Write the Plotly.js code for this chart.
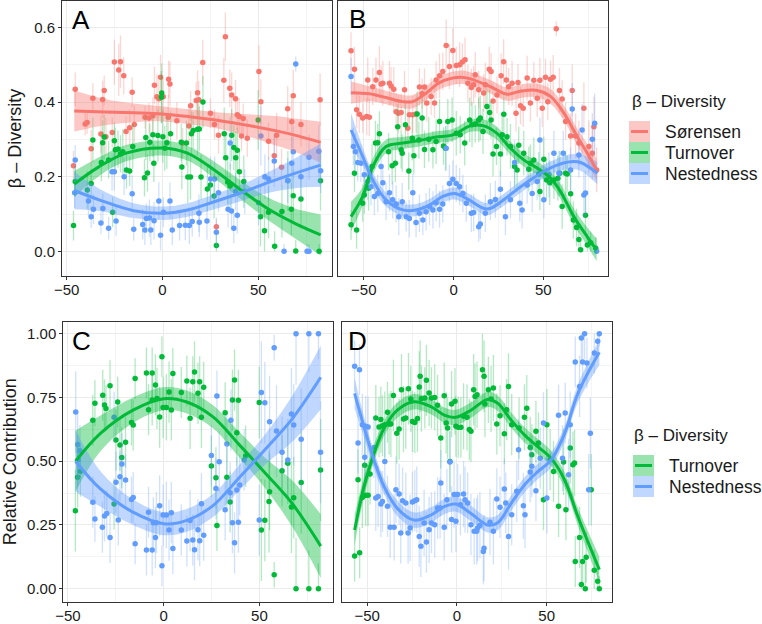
<!DOCTYPE html>
<html><head><meta charset="utf-8">
<script src="https://cdn.plot.ly/plotly-3.0.1.min.js"></script>
<style>html,body{margin:0;padding:0;background:#fff}#chart{width:762px;height:624px}</style>
</head><body><div id="chart"></div>
<script>
// ---------------- DATA ([x, value, error half-length]) ----------------
const A_SOR = [[-46.4,0.229,0.04],[-45.5,0.434,0.045],[-40.3,0.341,0.03],[-39.3,0.345,0.03],[-37.2,0.275,0.05],[-36.3,0.41,0.04],[-32.1,0.314,0.05],[-31.2,0.407,0.05],[-30.4,0.431,0.04],[-29.5,0.307,0.05],[-26.2,0.318,0.04],[-25.1,0.507,0.06],[-22.8,0.486,0.07],[-21.9,0.508,0.07],[-20.2,0.47,0.05],[-19,0.321,0.04],[-17.1,0.331,0.05],[-15.8,0.426,0.04],[-14.7,0.34,0.05],[-9.1,0.359,0.03],[-7,0.357,0.04],[-5,0.363,0.05],[-4.2,0.445,0.05],[-2.9,0.414,0.06],[-1.9,0.409,0.05],[-1,0.466,0.06],[0.4,0.414,0.05],[3,0.359,0.06],[3.2,0.461,0.05],[3.9,0.448,0.06],[7.5,0.35,0.05],[10.5,0.29,0.04],[13.8,0.336,0.05],[14.7,0.39,0.04],[17.6,0.404,0.05],[18.3,0.425,0.06],[18.9,0.406,0.05],[21,0.506,0.06],[25,0.37,0.04],[27.1,0.34,0.04],[28.1,0.066,0.02],[29.2,0.311,0.05],[32,0.458,0.06],[32.8,0.575,0.065],[35.1,0.437,0.05],[36.1,0.419,0.06],[38.1,0.409,0.05],[39,0.366,0.04],[40,0.361,0.05],[41.2,0.309,0.04],[42.1,0.356,0.04],[44.2,0.303,0.05],[50.3,0.482,0.07],[51.3,0.401,0.06],[55.3,0.295,0.05],[58.3,0.256,0.05],[59.5,0.311,0.06],[62.1,0.225,0.05],[65.3,0.382,0.06],[67.4,0.347,0.07],[68.2,0.417,0.07],[72.2,0.34,0.06],[82.2,0.406,0.07]];
const A_TUR = [[-46.4,0.069,0.04],[-45.5,0.187,0.04],[-39.2,0.164,0.05],[-37.2,0.182,0.04],[-36.3,0.298,0.06],[-31.9,0.238,0.05],[-31.2,0.291,0.06],[-30.4,0.306,0.06],[-28.1,0.245,0.05],[-26,0.105,0.04],[-25.1,0.296,0.05],[-24.6,0.272,0.06],[-23.2,0.274,0.05],[-21.9,0.261,0.05],[-20.7,0.267,0.06],[-18.8,0.218,0.05],[-17.1,0.215,0.04],[-15.5,0.281,0.06],[-9.4,0.197,0.05],[-7.8,0.21,0.05],[-8.7,0.305,0.06],[-6.6,0.292,0.05],[-5,0.312,0.06],[-4.5,0.236,0.05],[-2.4,0.31,0.07],[-0.4,0.424,0.08],[-0.6,0.413,0.07],[0.2,0.307,0.07],[1.2,0.276,0.06],[2.3,0.291,0.07],[4.2,0.315,0.06],[9.8,0.292,0.05],[10.1,0.226,0.06],[12.5,0.29,0.06],[13.2,0.199,0.07],[14.6,0.199,0.06],[15.1,0.315,0.06],[16,0.324,0.05],[18.3,0.327,0.07],[19.2,0.328,0.06],[21.1,0.4,0.07],[20.1,0.199,0.06],[23.4,0.167,0.06],[25,0.178,0.05],[26.9,0.148,0.06],[28.1,0.016,0.03],[32.2,0.315,0.07],[33,0.251,0.07],[34,0.186,0.06],[35.3,0.175,0.06],[36.1,0.311,0.07],[37.2,0.278,0.06],[38.2,0.251,0.07],[39,0.271,0.06],[40.1,0.213,0.06],[42.4,0.187,0.07],[49.9,0.352,0.08],[51.1,0.093,0.08],[53.2,0.055,0.06],[55.3,0.105,0.07],[58.5,0.014,0.04],[62.3,0.107,0.07],[65.4,0.189,0.08],[67.2,0.113,0.07],[68.2,0.149,0.07],[69.5,0.001,0.03],[72.2,0.14,0.08],[81.7,0,0.02],[82.4,0.189,0.08]];
const A_NES = [[-45.5,0.245,0.04],[-45.8,0.157,0.04],[-38.6,0.135,0.04],[-37.2,0.093,0.03],[-36,0.113,0.04],[-32.1,0.076,0.03],[-31.1,0.115,0.04],[-28.1,0.062,0.03],[-24.2,0.081,0.04],[-26.3,0.213,0.05],[-25.1,0.213,0.05],[-20,0.2,0.05],[-15.8,0.154,0.05],[-15,0.059,0.03],[-10.3,0.072,0.04],[-9.2,0.057,0.04],[-8.4,0.088,0.04],[-6.8,0.089,0.05],[-6.1,0.057,0.04],[-4.4,0.082,0.05],[-1.9,0.135,0.05],[-1,0.043,0.04],[0.5,0.105,0.04],[3.9,0.135,0.05],[5.1,0.057,0.04],[8.9,0.069,0.04],[11.9,0.07,0.04],[14,0.069,0.05],[15.5,0.08,0.04],[19,0.102,0.05],[19.2,0.078,0.04],[23.2,0.081,0.05],[25.1,0.194,0.06],[27.2,0.194,0.06],[28.1,0.051,0.04],[29.2,0.157,0.05],[34.2,0.113,0.05],[35.3,0.29,0.07],[36,0.108,0.05],[37.2,0.062,0.04],[39,0.097,0.05],[38.1,0.16,0.05],[42.9,0.16,0.06],[50.1,0.13,0.06],[51.3,0.309,0.08],[53.4,0.2,0.06],[55.3,0.194,0.06],[58.3,0.242,0.07],[63.4,0,0.02],[65.3,0.19,0.06],[67.4,0.236,0.07],[68.2,0.267,0.07],[69.5,0.502,0.02],[72.2,0.2,0.06],[75.4,0,0.02],[76.4,0,0.02],[76.4,0.252,0.06],[81.5,0.268,0.07],[82.5,0.216,0.06]];

const B_SOR = [[-57.1,0.537,0.05],[-55.2,0.488,0.06],[-54,0.379,0.05],[-52.5,0.367,0.05],[-50.6,0.357,0.04],[-48.4,0.361,0.05],[-46.9,0.359,0.05],[-47.8,0.459,0.06],[-45,0.441,0.05],[-43.2,0.459,0.06],[-41.3,0.479,0.07],[-40.4,0.448,0.05],[-39.4,0.45,0.06],[-35.7,0.45,0.06],[-34.8,0.443,0.05],[-33.3,0.434,0.06],[-32,0.374,0.05],[-30.7,0.37,0.05],[-29.2,0.372,0.05],[-27.3,0.433,0.05],[-25.5,0.33,0.05],[-24.6,0.366,0.04],[-22.7,0.366,0.05],[-20.9,0.368,0.05],[-19,0.44,0.05],[-17.5,0.422,0.04],[-16.2,0.44,0.05],[-14.9,0.397,0.05],[-12.5,0.415,0.05],[-10.6,0.397,0.04],[-9.7,0.459,0.05],[-7.8,0.47,0.06],[-6,0.482,0.05],[-4.1,0.551,0.07],[-2.3,0.495,0.06],[-0.4,0.538,0.06],[1.5,0.498,0.05],[3.4,0.5,0.06],[4.9,0.507,0.05],[6.4,0.513,0.06],[8,0.45,0.05],[9.9,0.439,0.05],[11.2,0.446,0.05],[12.1,0.473,0.06],[14,0.433,0.05],[16.8,0.424,0.05],[17.7,0.446,0.06],[19.9,0.488,0.06],[20.9,0.482,0.05],[22,0.403,0.05],[24.2,0.419,0.05],[26.5,0.47,0.06],[27.9,0.508,0.06],[29.4,0.459,0.05],[30.7,0.441,0.05],[32.6,0.45,0.06],[34.8,0.37,0.05],[35.9,0.452,0.05],[37.3,0.39,0.05],[38.8,0.383,0.05],[41,0.464,0.06],[42.8,0.397,0.05],[44.7,0.458,0.05],[46.6,0.41,0.05],[48.1,0.458,0.06],[49.4,0.383,0.05],[51.2,0.466,0.05],[52.5,0.401,0.05],[54,0.461,0.05],[55.5,0.466,0.06],[57.2,0.596,0.02],[59,0.431,0.06],[60.5,0.408,0.05],[62.4,0.348,0.05],[65.2,0.309,0.06],[66.1,0.431,0.07],[68,0.309,0.06],[69.8,0.29,0.06],[72.6,0.383,0.07],[75.4,0.281,0.07],[77.3,0.263,0.07],[78.2,0.334,0.08],[79.7,0.218,0.06]];
const B_TUR = [[-57.1,0.071,0.04],[-55.2,0.209,0.05],[-54,0.057,0.05],[-50.6,0.129,0.05],[-49.7,0.151,0.05],[-47.3,0.169,0.06],[-45.4,0.227,0.06],[-43.5,0.29,0.06],[-42.2,0.291,0.05],[-41.3,0.315,0.06],[-36.2,0.267,0.05],[-34.2,0.229,0.05],[-32.4,0.236,0.05],[-31.1,0.334,0.06],[-29.2,0.272,0.05],[-28.6,0.263,0.05],[-26.8,0.339,0.06],[-24.9,0.215,0.05],[-23,0.303,0.06],[-22.1,0.256,0.05],[-20.3,0.368,0.06],[-19.3,0.298,0.05],[-17.5,0.357,0.06],[-16.2,0.273,0.05],[-13.8,0.3,0.06],[-11.5,0.272,0.05],[-9.7,0.294,0.06],[-7.8,0.348,0.06],[-5.6,0.282,0.05],[-4.5,0.276,0.06],[-3.2,0.348,0.06],[-0.8,0.352,0.06],[1.5,0.316,0.06],[3.7,0.312,0.05],[6.2,0.29,0.06],[9,0.352,0.06],[10.3,0.339,0.06],[12.1,0.341,0.05],[14,0.352,0.06],[14.9,0.357,0.06],[16.4,0.321,0.06],[18.6,0.388,0.06],[20.1,0.372,0.06],[20.9,0.352,0.05],[22,0.261,0.06],[23.9,0.281,0.05],[26.1,0.261,0.06],[27.1,0.312,0.06],[28,0.367,0.06],[29.8,0.307,0.05],[31.7,0.281,0.06],[34,0.227,0.06],[35.4,0.218,0.06],[36.3,0.284,0.05],[39.1,0.263,0.06],[41.9,0.22,0.06],[42.8,0.236,0.05],[44.7,0.245,0.06],[47.5,0.207,0.06],[48.1,0.16,0.05],[50.3,0.247,0.06],[51.8,0.191,0.05],[53.6,0.184,0.06],[55.9,0.191,0.05],[58.1,0.196,0.06],[59.2,0.209,0.06],[60.5,0.12,0.06],[62.4,0.209,0.06],[63.3,0.207,0.05],[65.2,0.154,0.06],[66.7,0.084,0.05],[68.5,0.064,0.05],[69.8,0.032,0.04],[70.8,0.004,0.03],[73.5,0.097,0.05],[74.5,0.017,0.03],[76.4,0.023,0.03],[79.2,0.008,0.03]];
const B_NES = [[-57.1,0.468,0.05],[-55.8,0.281,0.05],[-54.7,0.267,0.05],[-53.4,0.238,0.05],[-51.6,0.236,0.05],[-49.7,0.205,0.05],[-47.8,0.187,0.05],[-46,0.173,0.05],[-44.1,0.147,0.05],[-42.2,0.155,0.05],[-40.4,0.227,0.06],[-39.4,0.184,0.05],[-37.6,0.133,0.05],[-35.7,0.157,0.05],[-33.9,0.138,0.05],[-32,0.127,0.05],[-30.5,0.093,0.05],[-28.6,0.133,0.05],[-26.4,0.093,0.04],[-24.6,0.088,0.05],[-22.7,0.157,0.05],[-20.9,0.077,0.04],[-19,0.102,0.05],[-17.1,0.084,0.04],[-15.3,0.106,0.05],[-13.4,0.12,0.05],[-11.5,0.111,0.05],[-9.7,0.13,0.05],[-7.8,0.113,0.05],[-6,0.127,0.05],[-4.1,0.276,0.06],[-2.3,0.182,0.05],[-0.4,0.193,0.05],[1.5,0.182,0.05],[3.4,0.173,0.05],[5.2,0.155,0.05],[7.1,0.129,0.05],[9.9,0.102,0.05],[11.2,0.104,0.05],[14,0.066,0.04],[14.9,0.073,0.04],[17.7,0.102,0.05],[20.5,0.133,0.05],[23.3,0.139,0.05],[26.1,0.166,0.05],[28.9,0.093,0.05],[31.7,0.138,0.05],[34,0.238,0.06],[36.9,0.129,0.05],[38.2,0.111,0.05],[41,0.178,0.05],[43.8,0.155,0.05],[46.6,0.187,0.05],[48.1,0.298,0.06],[50.3,0.138,0.05],[53.1,0.205,0.06],[55.9,0.263,0.06],[58.7,0.209,0.06],[61.1,0.263,0.06],[65.2,0.218,0.06],[66.1,0.381,0.07],[69.8,0.258,0.06],[71.6,0.325,0.07],[72.6,0.151,0.06],[73.5,0.156,0.06],[77.3,0.3,0.07],[78.6,0.343,0.08],[79.7,0,0.02]];

const C_TUR = [[-46.1,0.306,0.16],[-44.9,0.437,0.12],[-43.5,0.461,0.1],[-37,0.661,0.1],[-35.9,0.727,0.09],[-31.8,0.759,0.1],[-30.9,0.72,0.1],[-30.1,0.707,0.09],[-28,0.796,0.1],[-25.9,0.332,0.1],[-24.9,0.583,0.12],[-24,0.732,0.1],[-22.8,0.563,0.1],[-21.9,0.514,0.12],[-19.9,0.574,0.1],[-16.8,0.652,0.09],[-15.9,0.642,0.1],[-14.9,0.824,0.08],[-9,0.846,0.1],[-7.9,0.702,0.1],[-6,0.846,0.1],[-6,0.74,0.1],[-4.3,0.799,0.12],[-3.5,0.746,0.12],[-2.1,0.673,0.12],[-0.9,0.91,0.08],[-0.3,0.711,0.12],[1.4,0.711,0.13],[2.8,0.771,0.12],[4,0.701,0.12],[4.8,0.844,0.1],[9.2,0.769,0.1],[12.1,0.814,0.1],[13.8,0.668,0.12],[15.2,0.812,0.1],[16.1,0.85,0.12],[17.9,0.766,0.12],[18.8,0.812,0.1],[19.7,0.672,0.12],[20.9,0.79,0.1],[24.9,0.481,0.12],[27.3,0.435,0.12],[27.8,0.248,0.1],[32.1,0.69,0.12],[33,0.437,0.12],[34.7,0.34,0.12],[35.9,0.74,0.12],[37,0.818,0.12],[38.2,0.612,0.13],[39,0.739,0.12],[42.8,0.52,0.12],[49.9,0.73,0.14],[51,0.23,0.2],[52.8,0.268,0.16],[55,0.342,0.2],[55.3,0.38,0.15],[57.7,0.055,0.05],[61.8,0.463,0.14],[64.8,0.492,0.16],[66.7,0.32,0.18],[67.9,0.357,0.16],[69.1,0,0.2],[71.8,0.416,0.2],[75.8,0,0.15],[80.8,0,0.1],[81.9,0.465,0.2]];
const C_NES = [[-45.9,0.693,0.16],[-44.9,0.565,0.12],[-44.7,0.505,0.1],[-43.7,0.541,0.1],[-37,0.339,0.1],[-35.9,0.273,0.09],[-32,0.241,0.1],[-30.9,0.285,0.1],[-29.7,0.295,0.09],[-28,0.201,0.1],[-25.9,0.672,0.1],[-24.9,0.417,0.12],[-23.7,0.269,0.1],[-22.8,0.439,0.1],[-21.8,0.489,0.12],[-19.9,0.426,0.1],[-16.8,0.35,0.09],[-15.9,0.358,0.1],[-14.9,0.176,0.08],[-9,0.152,0.1],[-7.9,0.3,0.1],[-6,0.152,0.1],[-5.4,0.259,0.1],[-4.3,0.201,0.12],[-3.8,0.259,0.12],[-2.1,0.325,0.12],[-0.9,0.09,0.08],[-0.3,0.289,0.12],[1.4,0.289,0.13],[2.8,0.23,0.12],[4,0.298,0.12],[4.8,0.158,0.1],[9.2,0.23,0.1],[12.1,0.187,0.1],[13.8,0.267,0.12],[15.2,0.191,0.1],[16.1,0.153,0.12],[17.9,0.231,0.12],[18.8,0.188,0.1],[19.7,0.333,0.12],[20.9,0.21,0.1],[24.9,0.522,0.12],[27.3,0.393,0.12],[27.8,0.756,0.1],[29,0.498,0.12],[32.1,0.31,0.12],[33,0.567,0.12],[34.7,0.376,0.12],[35.1,0.661,0.12],[35.9,0.259,0.12],[37,0.18,0.12],[38.2,0.387,0.13],[39,0.261,0.12],[39.7,0.407,0.12],[42,0.505,0.12],[49.9,0.269,0.14],[51,0.769,0.2],[52.8,0.729,0.16],[55.3,0.655,0.18],[57.7,0.945,0.05],[58.9,0.618,0.18],[61.8,0.535,0.14],[64.8,0.505,0.16],[66.7,0.685,0.18],[67.9,0.642,0.16],[69.1,1,0.2],[71.8,0.586,0.2],[75.8,1,0.15],[80.8,1,0.1],[81.9,0.535,0.2]];

const D_TUR = [[-57,0.128,0.1],[-54.2,0.141,0.1],[-55.1,0.427,0.12],[-52.7,0.358,0.12],[-50.8,0.366,0.12],[-49.5,0.366,0.12],[-51.4,0.484,0.12],[-48.4,0.45,0.12],[-45.2,0.669,0.13],[-43.4,0.634,0.12],[-42.4,0.663,0.13],[-41.5,0.639,0.12],[-40.2,0.643,0.13],[-38.7,0.692,0.12],[-37.8,0.646,0.12],[-36.8,0.646,0.13],[-35.4,0.758,0.14],[-33.5,0.61,0.12],[-32.2,0.626,0.12],[-30.9,0.78,0.14],[-29.8,0.665,0.13],[-28.5,0.669,0.12],[-27,0.784,0.14],[-25.7,0.744,0.13],[-24.8,0.656,0.12],[-23.5,0.652,0.12],[-22,0.667,0.13],[-21,0.791,0.14],[-20.5,0.833,0.14],[-19.8,0.745,0.13],[-17.9,0.748,0.12],[-17,0.817,0.14],[-15.5,0.767,0.13],[-14.2,0.748,0.12],[-12.4,0.75,0.13],[-10.8,0.719,0.12],[-9,0.591,0.12],[-7.1,0.757,0.13],[-6,0.65,0.12],[-5.2,0.63,0.12],[-3.9,0.499,0.12],[-3,0.724,0.13],[-1.1,0.735,0.13],[-0.6,0.637,0.12],[0.7,0.633,0.12],[2.2,0.633,0.12],[3.7,0.676,0.13],[5.6,0.672,0.13],[6.9,0.624,0.12],[7.8,0.617,0.12],[9.3,0.78,0.14],[10.1,0.754,0.13],[11.2,0.761,0.13],[14.2,0.859,0.15],[15.1,0.833,0.14],[15.6,0.724,0.13],[17.5,0.78,0.13],[19,0.744,0.13],[20.3,0.787,0.13],[22.2,0.646,0.12],[24,0.678,0.12],[26.4,0.608,0.12],[27.7,0.702,0.12],[28.7,0.793,0.13],[30.5,0.643,0.12],[34.6,0.63,0.12],[37.6,0.672,0.13],[38.9,0.708,0.13],[40.8,0.554,0.12],[41.7,0.525,0.12],[44,0.617,0.12],[45.4,0.571,0.12],[48.2,0.349,0.12],[50.1,0.643,0.14],[51.9,0.506,0.12],[53.8,0.46,0.12],[56.6,0.323,0.12],[59.4,0.497,0.13],[60.7,0.31,0.12],[63.1,0.552,0.14],[64.6,0.486,0.13],[65.5,0.493,0.13],[65.9,0.107,0.1],[68.3,0.201,0.12],[69.3,0.016,0.1],[70,0.107,0.1],[71.5,0,0.1],[72,0.123,0.1],[74.8,0.388,0.14],[76.5,0.072,0.08],[78.4,0.029,0.06],[79.3,0,0.05]];
const D_NES = [[-57,0.872,0.1],[-54.3,0.859,0.1],[-55.1,0.571,0.12],[-52.7,0.643,0.12],[-50.8,0.637,0.12],[-49.5,0.634,0.12],[-51.4,0.515,0.12],[-46.2,0.554,0.12],[-45.2,0.356,0.13],[-43.9,0.362,0.12],[-42.4,0.332,0.13],[-41.5,0.342,0.12],[-40.2,0.499,0.13],[-38.7,0.323,0.12],[-37.2,0.241,0.12],[-35,0.241,0.13],[-34,0.388,0.13],[-32.2,0.371,0.12],[-31.3,0.218,0.12],[-30.3,0.345,0.13],[-28.5,0.336,0.12],[-27.2,0.218,0.12],[-26.1,0.238,0.13],[-24.8,0.34,0.12],[-23.5,0.345,0.12],[-22.4,0.349,0.13],[-21,0.205,0.12],[-20.1,0.166,0.12],[-18.3,0.258,0.13],[-17,0.183,0.12],[-15.5,0.231,0.13],[-14.2,0.258,0.12],[-12.4,0.251,0.13],[-10.8,0.316,0.12],[-9.4,0.316,0.12],[-9,0.414,0.13],[-7.1,0.241,0.13],[-5.6,0.349,0.12],[-3.9,0.497,0.12],[-3,0.271,0.13],[-1.6,0.369,0.13],[-0.6,0.264,0.12],[0.4,0.369,0.12],[1.9,0.329,0.12],[3.7,0.371,0.13],[4.5,0.349,0.13],[6,0.336,0.12],[7.8,0.251,0.12],[9.6,0.225,0.13],[11,0.225,0.13],[11.5,0.238,0.13],[12.8,0.248,0.13],[14.7,0.146,0.13],[15.1,0.159,0.13],[18.4,0.261,0.13],[20.3,0.225,0.13],[22.2,0.352,0.12],[24,0.319,0.12],[26.4,0.391,0.12],[27.2,0.336,0.12],[28.7,0.205,0.13],[30.5,0.29,0.12],[33.3,0.382,0.12],[34.3,0.545,0.12],[37,0.325,0.13],[37.9,0.29,0.13],[40.8,0.458,0.12],[41.7,0.48,0.12],[44,0.384,0.12],[46.4,0.512,0.12],[48.2,0.65,0.12],[50.1,0.356,0.14],[56.6,0.68,0.12],[58.8,0.512,0.13],[60.3,0.689,0.12],[62.2,0.447,0.14],[63.1,0.643,0.13],[65.9,0.889,0.1],[68.3,0.793,0.12],[69.3,0.983,0.1],[70,0.889,0.1],[71.1,1,0.1],[72.4,0.885,0.1],[73.4,0.388,0.14],[74.3,0.61,0.14],[76.5,0.924,0.08],[78.4,0.97,0.06],[79.3,1,0.05]];

// smooth fits: [x, fitted value, half-width of confidence band]
const A_SOR_FIT = [[-46,0.376,0.055],[-30,0.373,0.035],[-15,0.371,0.025],[0,0.368,0.02],[15,0.36,0.02],[30,0.35,0.022],[45,0.337,0.03],[60,0.322,0.04],[70,0.31,0.045],[82.5,0.292,0.055]];
const A_TUR_FIT = [[-46,0.18,0.035],[-33,0.227,0.025],[-19,0.263,0.022],[0,0.277,0.02],[13,0.263,0.02],[27,0.218,0.022],[41,0.164,0.025],[55,0.114,0.03],[69,0.075,0.04],[82.5,0.044,0.055]];
const A_NES_FIT = [[-46,0.163,0.05],[-33,0.138,0.03],[-15,0.109,0.02],[0,0.102,0.018],[13,0.111,0.018],[27,0.133,0.02],[41,0.157,0.022],[55,0.184,0.028],[69,0.209,0.04],[82.5,0.231,0.058]];
const B_SOR_FIT = [[-57.1,0.425,0.03],[-46.9,0.422,0.02],[-37.6,0.412,0.018],[-28.3,0.401,0.018],[-22.7,0.401,0.018],[-15.2,0.424,0.018],[-7.8,0.452,0.018],[3.4,0.466,0.018],[9.3,0.462,0.018],[20.5,0.441,0.018],[29.8,0.421,0.018],[37.3,0.429,0.018],[46.6,0.431,0.018],[54,0.415,0.02],[61.5,0.37,0.02],[68.9,0.307,0.022],[74.5,0.263,0.025],[79.7,0.218,0.03]];
const B_TUR_FIT = [[-57.1,0.093,0.04],[-50.6,0.147,0.025],[-45,0.227,0.022],[-37.6,0.281,0.018],[-28.3,0.29,0.016],[-19,0.297,0.016],[-9.7,0.306,0.016],[-0.4,0.312,0.016],[9.3,0.336,0.016],[16.8,0.336,0.018],[24.2,0.316,0.018],[31.7,0.276,0.018],[39.1,0.245,0.018],[46.6,0.223,0.018],[54,0.196,0.018],[59.6,0.16,0.02],[67,0.093,0.022],[74.5,0.039,0.025],[79.7,0.004,0.03]];
const B_NES_FIT = [[-57.1,0.325,0.045],[-50.6,0.254,0.025],[-45,0.191,0.02],[-37.6,0.138,0.018],[-28.3,0.111,0.016],[-20.8,0.111,0.016],[-13.4,0.124,0.016],[-6,0.147,0.016],[0.6,0.155,0.016],[7.1,0.142,0.016],[16.8,0.115,0.016],[20.5,0.115,0.016],[27.9,0.138,0.016],[35.4,0.166,0.016],[42.8,0.191,0.016],[50.3,0.214,0.018],[57.7,0.231,0.018],[65.2,0.24,0.02],[70.8,0.238,0.022],[80.1,0.209,0.03]];
const C_TUR_FIT = [[-46,0.5,0.12],[-33,0.609,0.07],[-16,0.70,0.05],[0,0.745,0.045],[11.7,0.733,0.045],[25.6,0.675,0.045],[39.4,0.565,0.05],[53.2,0.452,0.06],[67,0.335,0.09],[82,0.167,0.125]];
const C_NES_FIT = [[-46,0.5,0.12],[-33,0.391,0.07],[-16,0.30,0.05],[0,0.255,0.045],[11.7,0.267,0.045],[25.6,0.325,0.045],[39.4,0.435,0.05],[53.2,0.548,0.06],[67,0.665,0.09],[82,0.829,0.125]];
const D_TUR_FIT = [[-57,0.23,0.06],[-51.8,0.4,0.04],[-46.2,0.53,0.035],[-40.6,0.629,0.03],[-33.2,0.70,0.03],[-23.9,0.733,0.03],[-14.5,0.714,0.03],[-7.1,0.681,0.03],[-0.6,0.672,0.03],[7.8,0.70,0.03],[17.1,0.742,0.03],[22.7,0.727,0.03],[30.2,0.661,0.03],[37.6,0.603,0.03],[45,0.557,0.03],[52.5,0.511,0.03],[60,0.426,0.03],[67.4,0.282,0.035],[79.3,0.075,0.05]];
const D_NES_FIT = [[-57,0.766,0.06],[-51.8,0.635,0.04],[-46.2,0.505,0.035],[-40.6,0.40,0.03],[-33.2,0.315,0.03],[-23.9,0.269,0.03],[-14.5,0.289,0.03],[-7.1,0.322,0.03],[-0.6,0.332,0.03],[7.8,0.295,0.03],[17.1,0.25,0.03],[22.7,0.259,0.03],[30.2,0.335,0.03],[37.6,0.407,0.03],[45,0.459,0.03],[52.5,0.505,0.03],[60,0.609,0.03],[67.4,0.766,0.035],[79.3,0.927,0.05]];

const PANEL_LABELS = ['A','B','C','D'];
const LEGEND_TITLE = 'β – Diversity';
const LEGEND1 = ['Sørensen','Turnover','Nestedness'];
const LEGEND2 = ['Turnover','Nestedness'];
const YTITLE_TOP = 'β – Diversity';
const YTITLE_BOTTOM = 'Relative Contribution';

// ---------------- STYLE ----------------
const RED = '#F8766D', GREEN = '#00BA38', BLUE = '#619CFF';
const FONT = 'Liberation Sans, Arial, sans-serif';
function rgba(hex, a){
  const n = parseInt(hex.slice(1),16);
  return `rgba(${(n>>16)&255},${(n>>8)&255},${n&255},${a})`;
}
const W = 762, H = 624;
const px = v => v / W, py = v => 1 - v / H;

function pointsTrace(pts, color, xa, ya, top){
  return {type:'scatter', mode:'markers', xaxis:xa, yaxis:ya, showlegend:false, hoverinfo:'skip',
    x: pts.map(p=>p[0]), y: pts.map(p=>p[1]),
    marker:{color:color, size:5.5},
    error_y:{type:'data', symmetric:false, visible:true,
      array: pts.map(p=>Math.min(p[2], top - p[1])),
      arrayminus: pts.map(p=>Math.min(p[2], p[1])),
      color: rgba(color,0.3), thickness:1.3, width:0}};
}
function bandTraces(fit, color, xa, ya){
  const xs = fit.map(p=>p[0]);
  return [
    {type:'scatter', mode:'lines', xaxis:xa, yaxis:ya, showlegend:false, hoverinfo:'skip',
     x:xs, y:fit.map(p=>p[1]-p[2]), line:{width:0, shape:'spline', color:color}},
    {type:'scatter', mode:'lines', xaxis:xa, yaxis:ya, showlegend:false, hoverinfo:'skip',
     x:xs, y:fit.map(p=>p[1]+p[2]), line:{width:0, shape:'spline', color:color},
     fill:'tonexty', fillcolor:rgba(color,0.4)}
  ];
}
function lineTrace(fit, color, xa, ya){
  return {type:'scatter', mode:'lines', xaxis:xa, yaxis:ya, showlegend:false, hoverinfo:'skip',
    x:fit.map(p=>p[0]), y:fit.map(p=>p[1]), line:{color:color, width:3, shape:'spline'}};
}

const traces = [];
const panels = [
  {xa:'x', ya:'y', top:1.0, series:[[A_SOR,A_SOR_FIT,RED],[A_TUR,A_TUR_FIT,GREEN],[A_NES,A_NES_FIT,BLUE]]},
  {xa:'x2', ya:'y2', top:1.0, series:[[B_SOR,B_SOR_FIT,RED],[B_TUR,B_TUR_FIT,GREEN],[B_NES,B_NES_FIT,BLUE]]},
  {xa:'x3', ya:'y3', top:1.0, series:[[C_TUR,C_TUR_FIT,GREEN],[C_NES,C_NES_FIT,BLUE]]},
  {xa:'x4', ya:'y4', top:1.0, series:[[D_TUR,D_TUR_FIT,GREEN],[D_NES,D_NES_FIT,BLUE]]}
];
panels.forEach(P=>{
  P.series.forEach(s=>traces.push(pointsTrace(s[0], s[2], P.xa, P.ya, P.top)));
  P.series.forEach(s=>bandTraces(s[1], s[2], P.xa, P.ya).forEach(t=>traces.push(t)));
  P.series.forEach(s=>traces.push(lineTrace(s[1], s[2], P.xa, P.ya)));
});

const tickFont = {family:FONT, size:15, color:'#1a1a1a'};
function xAxis(dom, rng, anchor){
  return {domain:dom, range:rng, anchor:anchor, tick0:0, dtick:50, ticks:'outside', ticklen:3, tickwidth:1,
    tickcolor:'#333', showline:true, mirror:true, linecolor:'#333', linewidth:1, ticklabelstandoff:-3,
    showgrid:true, gridcolor:'#EBEBEB', gridwidth:1, zeroline:false, tickfont:tickFont,
    minor:{dtick:25, tick0:0, showgrid:true, gridcolor:'#F4F4F4', gridwidth:1, ticks:''}};
}
function yAxis(dom, rng, anchor, dt, fmt, showLabels, title, standoff){
  const ax = {domain:dom, range:rng, anchor:anchor, tick0:0, dtick:dt, tickformat:fmt,
    ticks: showLabels ? 'outside' : '', ticklen:3, tickwidth:1, tickcolor:'#333',
    showticklabels:showLabels, showline:true, mirror:true, linecolor:'#333', linewidth:1,
    showgrid:true, gridcolor:'#EBEBEB', gridwidth:1, zeroline:false, tickfont:tickFont,
    minor:{dtick:dt/2, tick0:0, showgrid:true, gridcolor:'#F4F4F4', gridwidth:1, ticks:''}};
  if (title) ax.title = {text:title, font:{family:FONT, size:18, color:'#1a1a1a'}, standoff:standoff};
  return ax;
}

const rowTop = [py(276), py(1)], rowBot = [py(601.7), py(321.7)];
const layout = {
  width:W, height:H, margin:{l:0, r:0, t:0, b:0},
  paper_bgcolor:'#fff', plot_bgcolor:'#fff', showlegend:false,
  xaxis:  xAxis([px(62), px(332)], [-52.4, 88.4], 'y'),
  yaxis:  yAxis(rowTop, [-0.066, 0.6705], 'x', 0.2, '.1f', true, YTITLE_TOP, 7),
  xaxis2: xAxis([px(338.3), px(608.3)], [-64.2, 86.2], 'y2'),
  yaxis2: yAxis(rowTop, [-0.066, 0.6705], 'x2', 0.2, '.1f', false, null, 0),
  xaxis3: xAxis([px(63.3), px(333)], [-52.4, 88.4], 'y3'),
  yaxis3: yAxis(rowBot, [-0.051, 1.047], 'x3', 0.25, '.2f', true, YTITLE_BOTTOM, 6),
  xaxis4: xAxis([px(341.7), px(611.7)], [-64.2, 86.2], 'y4'),
  yaxis4: yAxis(rowBot, [-0.051, 1.047], 'x4', 0.25, '.2f', false, null, 0),
  annotations:[], shapes:[]
};

// panel letters
[[70,20],[347,19],[70,341],[346,341]].forEach((p,i)=>{
  layout.annotations.push({xref:'paper', yref:'paper', x:px(p[0]), y:py(p[1]), xanchor:'left', yanchor:'middle',
    text:PANEL_LABELS[i], showarrow:false, font:{family:FONT, size:26, color:'#000'}});
});

// legends (drawn as keys + text)
function legend(titleXY, keyX, keyTops, labels, colors, labelX){
  layout.annotations.push({xref:'paper', yref:'paper', x:px(titleXY[0]), y:py(titleXY[1]), xanchor:'left', yanchor:'middle',
    text:LEGEND_TITLE, showarrow:false, font:{family:FONT, size:17, color:'#1a1a1a'}});
  labels.forEach((lab,i)=>{
    const t = keyTops[i], b = keyTops[i]+21, c = (t+b)/2;
    layout.shapes.push({type:'rect', xref:'paper', yref:'paper', x0:px(keyX), x1:px(keyX+21), y0:py(b), y1:py(t),
      fillcolor:rgba(colors[i],0.4), line:{width:0}});
    layout.shapes.push({type:'line', xref:'paper', yref:'paper', x0:px(keyX+2), x1:px(keyX+19), y0:py(c), y1:py(c),
      line:{color:colors[i], width:3}});
    layout.annotations.push({xref:'paper', yref:'paper', x:px(labelX), y:py(c), xanchor:'left', yanchor:'middle',
      text:lab, showarrow:false, font:{family:FONT, size:17.5, color:'#1a1a1a'}});
  });
}
legend([630,102], 629, [121,142,163], LEGEND1, [RED,GREEN,BLUE], 663);
legend([632,435], 633, [455,476], LEGEND2, [GREEN,BLUE], 667);

Plotly.newPlot('chart', traces, layout, {displayModeBar:false, staticPlot:true});
</script>
</body></html>
